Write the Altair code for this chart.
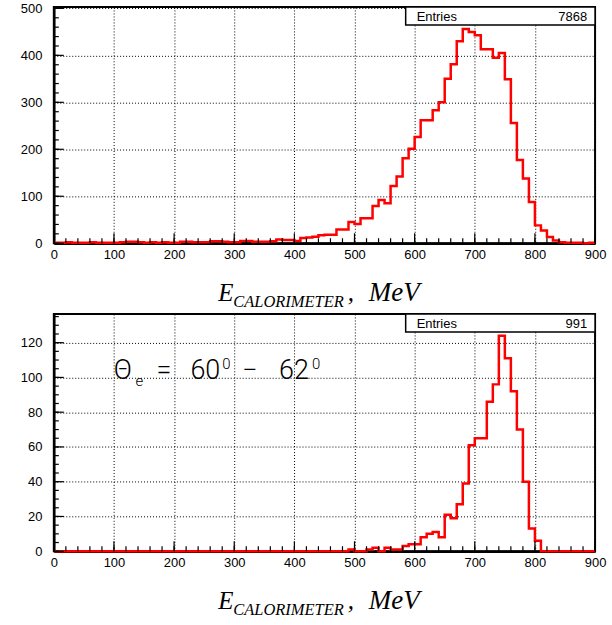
import altair as alt
import pandas as pd

# ---------------- data (counts per 10 MeV bin, 0..900 MeV) ----------------
bin_edges = list(range(0, 900, 10))

top_counts = [
    1, 1, 2, 1, 1, 1, 2, 1, 1, 1,
    1, 2, 3, 3, 2, 1, 2, 1, 2, 1,
    1, 3, 3, 2, 2, 2, 4, 4, 3, 2,
    2, 5, 5, 3, 3, 3, 4, 8, 7, 7,
    5, 11, 12, 14, 17, 18, 18, 29, 29, 45,
    41, 53, 53, 79, 92, 85, 122, 142, 181, 201,
    226, 262, 262, 283, 300, 350, 381, 430, 456, 450,
    443, 413, 413, 395, 405, 349, 256, 177, 138, 88,
    38, 27, 13, 6, 2, 1, 1, 1, 0, 1,
]

bottom_counts = [
    0, 0, 0, 0, 0, 0, 0, 0, 0, 0,
    0, 0, 0, 0, 0, 0, 0, 0, 0, 0,
    0, 0, 0, 0, 0, 0, 0, 0, 0, 0,
    0, 0, 0, 0, 0, 0, 0, 0, 0, 0,
    0, 0, 0, 0, 0, 0, 0, 0, 0, 1,
    0, 0, 1, 2, 0, 2, 1, 1, 3, 4,
    4, 8, 10, 11, 8, 21, 19, 27, 39, 61,
    65, 65, 86, 96, 124, 111, 92, 70, 40, 13,
    6, 0, 0, 0, 0, 0, 0, 0, 0, 0,
]

top_entries = "7868"
bottom_entries = "991"

x_major = [0, 100, 200, 300, 400, 500, 600, 700, 800, 900]
x_minor = list(range(0, 901, 20))
top_y_major = [0, 100, 200, 300, 400, 500]
top_y_minor = list(range(0, 501, 20))
bot_y_major = [0, 20, 40, 60, 80, 100, 120]
bot_y_minor = list(range(0, 136, 5))

top_ymax = 503
bot_ymax = 136.5

W = 543
LABEL_FONT = "Liberation Sans"
SERIF = "Liberation Serif"


def xenc(field):
    return alt.X(
        field, type="quantitative",
        scale=alt.Scale(domain=[0, 900], nice=False, zero=False),
        axis=alt.Axis(values=x_major, grid=True, gridDash=[1, 2], gridColor="black",
                      gridOpacity=1, gridWidth=1, ticks=False, labelPadding=5, labelFontSize=13,
                      labelFont=LABEL_FONT, labelColor="black", domainColor="black",
                      domainWidth=2.5, title=None, format="d", labelFlush=False),
    )


def yenc(field, ymax, ymaj):
    return alt.Y(
        field, type="quantitative",
        scale=alt.Scale(domain=[0, ymax], nice=False, zero=True),
        axis=alt.Axis(values=ymaj, grid=True, gridDash=[1, 2], gridColor="black",
                      gridOpacity=1, gridWidth=1, ticks=False, labelPadding=12, labelFontSize=13,
                      labelFont=LABEL_FONT, labelColor="black", domainColor="black",
                      domainWidth=2.5, title=None, minExtent=48, maxExtent=48,
                      format="d", labelFlush=False),
    )


def panel(counts, ymax, ymaj, ymin, H, entries, extra):
    hist = pd.DataFrame({"e": bin_edges + [900], "c": counts + [counts[-1]]})
    line = alt.Chart(hist).mark_line(
        interpolate="step-after", color="#ff0000", strokeWidth=2.5
    ).encode(x=xenc("e"), y=yenc("c", ymax, ymaj))

    xmin_df = pd.DataFrame({"v": x_minor})
    xmaj_df = pd.DataFrame({"v": x_major})
    ymin_df = pd.DataFrame({"v": ymin})
    ymaj_df = pd.DataFrame({"v": ymaj})

    xt_min = alt.Chart(xmin_df).mark_rule(color="black", strokeWidth=1.2).encode(
        x=xenc("v"), y=alt.value(H), y2=alt.value(H - 5))
    xt_maj = alt.Chart(xmaj_df).mark_rule(color="black", strokeWidth=1.2).encode(
        x=xenc("v"), y=alt.value(H), y2=alt.value(H - 10))
    yt_min = alt.Chart(ymin_df).mark_rule(color="black", strokeWidth=1.2).encode(
        y=yenc("v", ymax, ymaj), x=alt.value(0), x2=alt.value(5))
    yt_maj = alt.Chart(ymaj_df).mark_rule(color="black", strokeWidth=1.2).encode(
        y=yenc("v", ymax, ymaj), x=alt.value(0), x2=alt.value(10))

    one = pd.DataFrame({"k": [0]})
    box = alt.Chart(one).mark_rect(fill="white", stroke="black", strokeWidth=1.5).encode(
        x=alt.value(353), x2=alt.value(W), y=alt.value(0), y2=alt.value(18))
    ent = alt.Chart(one).mark_text(align="left", baseline="alphabetic", fontSize=13,
                                   font=LABEL_FONT, color="black").encode(
        x=alt.value(364), y=alt.value(14), text=alt.value("Entries"))
    num = alt.Chart(one).mark_text(align="right", baseline="alphabetic", fontSize=13,
                                   font=LABEL_FONT, color="black").encode(
        x=alt.value(535), y=alt.value(14), text=alt.value(entries))

    def t(txt, x, y, size, font=SERIF, style="italic"):
        return alt.Chart(one).mark_text(align="left", baseline="alphabetic", fontSize=size,
                                        font=font, fontStyle=style, color="black").encode(
            x=alt.value(x), y=alt.value(y), text=alt.value(txt))

    title = [
        t("E", 165, H + 58, 25),
        t("CALORIMETER", 180, H + 64, 16.5),
        t(",", 295, H + 58, 25),
        t("MeV", 316, H + 58, 27),
    ]

    layers = [line, xt_min, xt_maj, yt_min, yt_maj, box, ent, num] + title + extra
    return alt.layer(*layers).properties(width=W, height=H)


one = pd.DataFrame({"k": [0]})


def tl(txt, x, y, size):
    return alt.Chart(one).mark_text(align="left", baseline="alphabetic", fontSize=size,
                                    font="Roboto", fontWeight=300, color="black").encode(
        x=alt.value(x), y=alt.value(y), text=alt.value(txt))


theta_text = [
    tl("\u0398", 60, 65, 27),
    tl("e", 82, 72, 15),
    tl("=", 103, 65, 27),
    tl("60", 137, 65, 27),
    tl("0", 169, 55, 15),
    tl("\u2212", 189, 65, 27),
    tl("62", 226, 65, 27),
    tl("0", 259, 55, 15),
]

top = panel(top_counts, top_ymax, top_y_major, top_y_minor, 237, top_entries, [])
bottom = panel(bottom_counts, bot_ymax, bot_y_major, bot_y_minor, 238, bottom_entries, theta_text)

chart = alt.vconcat(top, bottom, spacing=0).properties(
    padding={"left": 5, "top": 0, "right": 5, "bottom": 0}
).configure_view(stroke="black", strokeWidth=2)

chart.save("out.html", embed_options={"renderer": "svg", "actions": False})
